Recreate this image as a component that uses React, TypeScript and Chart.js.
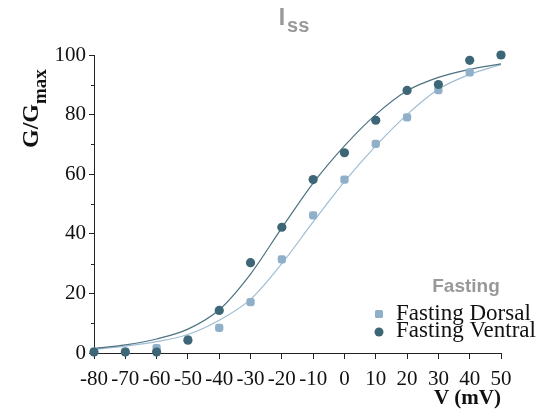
import React, { useEffect, useRef } from 'react';
import { Chart, registerables } from 'chart.js';

Chart.register(...registerables);

const voltages = [-80, -70, -60, -50, -40, -30, -20, -10, 0, 10, 20, 30, 40, 50];
const dorsalValues = [0.5, 0.5, 1.6, 4.5, 8.4, 17.1, 31.4, 46.2, 58.2, 70.2, 79.1, 88.2, 94.2, 100];
const ventralValues = [0.3, 0.3, 0.3, 4.3, 14.3, 30.3, 42.2, 58.2, 67.2, 78.1, 88.1, 90.1, 98.2, 100];
const dorsalFit = [1.2, 2.3, 3.8, 6.2, 11, 18, 30, 44, 57.5, 69.5, 80, 88.5, 93.5, 96.8];
const ventralFit = [1.5, 2.7, 4.7, 8.0, 14.5, 26.5, 42, 57, 69.5, 80, 88, 92.5, 95.2, 97];
const yMinorTicks = [10, 30, 50, 70, 90];

const titleMain = 'I';
const titleSub = 'ss';
const legendTitle = 'Fasting';
const dorsalLabel = 'Fasting Dorsal';
const ventralLabel = 'Fasting Ventral';
const yTitleMain = 'G/G';
const yTitleSub = 'max';
const xTitle = 'V (mV)';

const DARK = '#3d6676';
const LIGHT = '#8fb0c8';
const DARK_LINE = '#4d7282';
const LIGHT_LINE = '#9fbdd3';
const SERIF = '"Liberation Serif", "Times New Roman", serif';
const SANS = '"Liberation Sans", Arial, sans-serif';

const pts = (vals: number[]) => voltages.map((v, i) => ({ x: v, y: vals[i] }));

const decor = {
  id: 'decor',
  afterDraw(chart: any) {
    const ctx: CanvasRenderingContext2D = chart.ctx;
    const xs = chart.scales.x;
    const ys = chart.scales.y;
    ctx.save();
    // minor y ticks
    ctx.strokeStyle = '#222';
    ctx.lineWidth = 1;
    for (const v of yMinorTicks) {
      const py = Math.round(ys.getPixelForValue(v)) + 0.5;
      ctx.beginPath();
      ctx.moveTo(xs.left - 3, py);
      ctx.lineTo(xs.left, py);
      ctx.stroke();
    }
    // title
    ctx.fillStyle = '#999';
    ctx.textBaseline = 'alphabetic';
    ctx.textAlign = 'left';
    ctx.font = `bold 23px ${SANS}`;
    const wI = ctx.measureText(titleMain).width;
    ctx.font = `bold 20px ${SANS}`;
    const wS = ctx.measureText(titleSub).width;
    const tx = 294 - (wI + 2 + wS) / 2;
    ctx.font = `bold 23px ${SANS}`;
    ctx.fillText(titleMain, tx, 25);
    ctx.font = `bold 20px ${SANS}`;
    ctx.fillText(titleSub, tx + wI + 2, 32);

    // y title rotated
    ctx.save();
    ctx.fillStyle = '#111';
    ctx.translate(38, 148);
    ctx.rotate(-Math.PI / 2);
    ctx.font = `bold 24px ${SERIF}`;
    ctx.fillText(yTitleMain, 0, 0);
    const wg = ctx.measureText(yTitleMain).width;
    ctx.font = `bold 19px ${SERIF}`;
    ctx.fillText(yTitleSub, wg, 8);
    ctx.restore();

    // x title
    ctx.fillStyle = '#111';
    ctx.font = `bold 21px ${SERIF}`;
    ctx.textAlign = 'right';
    ctx.fillText(xTitle, 501, 404);

    // legend
    ctx.textAlign = 'center';
    ctx.fillStyle = '#999';
    ctx.font = `bold 19px ${SANS}`;
    ctx.fillText(legendTitle, 466, 292);

    const mx = 379;
    // square
    ctx.fillStyle = LIGHT;
    const s = 4;
    const r = 1.5;
    const sy = 314;
    ctx.beginPath();
    ctx.moveTo(mx - s + r, sy - s);
    ctx.arcTo(mx + s, sy - s, mx + s, sy + s, r);
    ctx.arcTo(mx + s, sy + s, mx - s, sy + s, r);
    ctx.arcTo(mx - s, sy + s, mx - s, sy - s, r);
    ctx.arcTo(mx - s, sy - s, mx + s, sy - s, r);
    ctx.closePath();
    ctx.fill();
    // circle
    ctx.fillStyle = DARK;
    ctx.beginPath();
    ctx.arc(mx, 332, 4.5, 0, Math.PI * 2);
    ctx.fill();

    ctx.fillStyle = '#111';
    ctx.textAlign = 'left';
    ctx.textBaseline = 'middle';
    ctx.font = `23px ${SERIF}`;
    ctx.fillText(dorsalLabel, 396, 314);
    ctx.fillText(ventralLabel, 396, 331);
    ctx.restore();
  },
};

export default function App() {
  const ref = useRef<HTMLCanvasElement | null>(null);
  useEffect(() => {
    if (!ref.current) return;
    const chart = new Chart(ref.current, {
      type: 'scatter',
      data: {
        datasets: [
          {
            label: ventralLabel,
            data: pts(ventralValues),
            backgroundColor: DARK,
            borderColor: DARK,
            pointStyle: 'circle',
            pointRadius: 4.6,
            borderWidth: 0,
            clip: false,
          } as any,
          {
            label: dorsalLabel,
            data: pts(dorsalValues),
            backgroundColor: LIGHT,
            borderColor: LIGHT,
            pointStyle: 'rectRounded',
            pointRadius: 4.8,
            borderWidth: 0,
            clip: false,
          } as any,
          {
            type: 'line',
            label: 'ventral fit',
            data: pts(ventralFit),
            borderColor: DARK_LINE,
            borderWidth: 1.2,
            pointRadius: 0,
            showLine: true,
            fill: false,
            cubicInterpolationMode: 'monotone',
          } as any,
          {
            type: 'line',
            label: 'dorsal fit',
            data: pts(dorsalFit),
            borderColor: LIGHT_LINE,
            borderWidth: 1.2,
            pointRadius: 0,
            showLine: true,
            fill: false,
            cubicInterpolationMode: 'monotone',
          } as any,
        ],
      },
      options: {
        animation: false,
        responsive: false,
        maintainAspectRatio: false,
        layout: { padding: { top: 55, right: 44, left: 0, bottom: 0 } },
        plugins: { legend: { display: false }, tooltip: { enabled: false }, title: { display: false } },
        scales: {
          x: {
            type: 'linear',
            min: -80,
            max: 50,
            afterFit: (s: any) => { s.height = 56; },
            ticks: {
              stepSize: 10,
              autoSkip: false,
              maxRotation: 0,
              padding: 8,
              color: '#111',
              font: { family: SERIF, size: 21 },
              callback: (v: any) => String(v),
            },
            grid: { drawOnChartArea: false, drawTicks: true, tickLength: 6, color: '#222' },
            border: { color: '#222', width: 1 },
          },
          y: {
            type: 'linear',
            min: 0,
            max: 100,
            afterFit: (s: any) => { s.width = 94; },
            ticks: {
              stepSize: 20,
              padding: 3,
              color: '#111',
              font: { family: SERIF, size: 21 },
              callback: (v: any) => String(v),
            },
            grid: { drawOnChartArea: false, drawTicks: true, tickLength: 5, color: '#222' },
            border: { color: '#222', width: 1 },
          },
        },
      },
      plugins: [decor],
    } as any);
    return () => chart.destroy();
  }, []);
  return (
    <div style={{ position: 'absolute', left: 0, top: 0, width: 545, height: 409 }}>
      <canvas ref={ref} width={545} height={409} style={{ width: 545, height: 409 }} />
    </div>
  );
}
